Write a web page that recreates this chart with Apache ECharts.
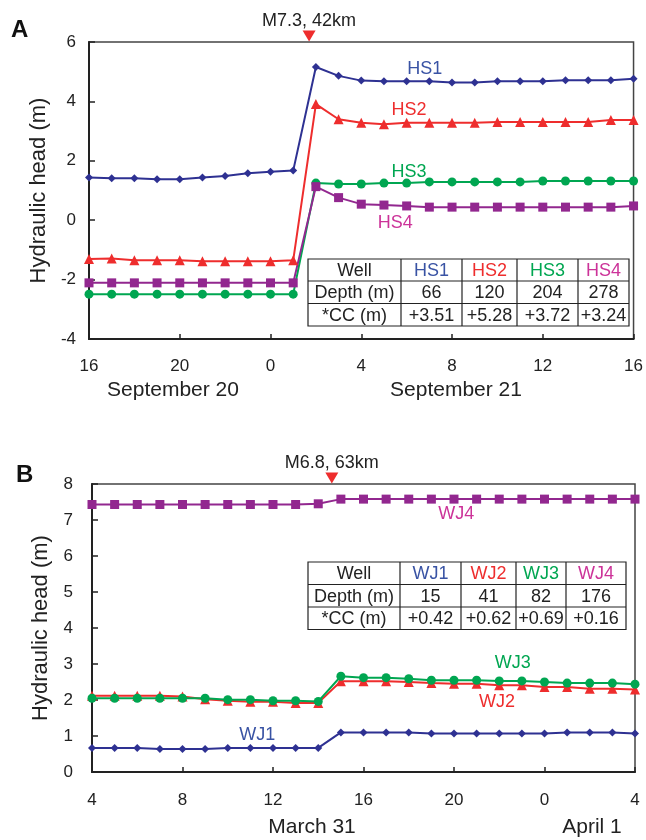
<!DOCTYPE html>
<html>
<head>
<meta charset="utf-8">
<script src="https://cdn.jsdelivr.net/npm/echarts@6/dist/echarts.min.js"></script>
<style>
  html, body { margin: 0; padding: 0; background: #fff; }
  #chart { width: 646px; height: 840px; }
</style>
</head>
<body>
<div id="chart"></div>
<script>
// hours since the first reading (16:00 Sep 20 in A, 04:00 Mar 31 in B)
var hours = [0, 1, 2, 3, 4, 5, 6, 7, 8, 9, 10, 11, 12, 13, 14, 15, 16, 17, 18, 19, 20, 21, 22, 23, 24];

var ticksA = ['16', '20', '0', '4', '8', '12', '16'];
var ticksB = ['4', '8', '12', '16', '20', '0', '4'];

var hs1 = [1.44, 1.41, 1.41, 1.38, 1.38, 1.44, 1.49, 1.58, 1.63, 1.67, 5.16, 4.86, 4.70, 4.68, 4.68, 4.68, 4.64, 4.64, 4.68, 4.68, 4.68, 4.71, 4.71, 4.71, 4.76];
var hs2 = [-1.31, -1.29, -1.35, -1.35, -1.35, -1.38, -1.38, -1.38, -1.38, -1.35, 3.91, 3.40, 3.28, 3.23, 3.28, 3.28, 3.28, 3.28, 3.31, 3.31, 3.31, 3.31, 3.31, 3.37, 3.37];
var hs3 = [-2.49, -2.49, -2.49, -2.49, -2.49, -2.49, -2.49, -2.49, -2.49, -2.49, 1.25, 1.22, 1.22, 1.25, 1.25, 1.29, 1.29, 1.29, 1.29, 1.29, 1.32, 1.32, 1.32, 1.32, 1.32];
var hs4 = [-2.11, -2.11, -2.11, -2.11, -2.11, -2.11, -2.11, -2.11, -2.11, -2.11, 1.13, 0.76, 0.54, 0.51, 0.48, 0.44, 0.44, 0.44, 0.44, 0.44, 0.44, 0.44, 0.44, 0.44, 0.48];

var wj1 = [0.67, 0.67, 0.67, 0.64, 0.64, 0.64, 0.67, 0.67, 0.67, 0.67, 0.67, 1.10, 1.10, 1.10, 1.10, 1.07, 1.07, 1.07, 1.07, 1.07, 1.07, 1.10, 1.10, 1.10, 1.07];
var wj2 = [2.12, 2.12, 2.12, 2.12, 2.10, 2.02, 1.98, 1.95, 1.95, 1.92, 1.92, 2.52, 2.52, 2.52, 2.50, 2.47, 2.45, 2.45, 2.41, 2.41, 2.36, 2.36, 2.31, 2.31, 2.29];
var wj3 = [2.05, 2.05, 2.05, 2.05, 2.05, 2.05, 2.01, 2.01, 1.98, 1.98, 1.96, 2.66, 2.62, 2.62, 2.59, 2.55, 2.55, 2.55, 2.53, 2.53, 2.50, 2.47, 2.47, 2.47, 2.44];
var wj4 = [7.43, 7.43, 7.43, 7.43, 7.43, 7.43, 7.43, 7.43, 7.43, 7.43, 7.45, 7.58, 7.58, 7.58, 7.58, 7.58, 7.58, 7.58, 7.58, 7.58, 7.58, 7.58, 7.58, 7.58, 7.58];

var wellsA = ['HS1', 'HS2', 'HS3', 'HS4'];
var depthA = ['66', '120', '204', '278'];
var ccA = ['+3.51', '+5.28', '+3.72', '+3.24'];
var wellsB = ['WJ1', 'WJ2', 'WJ3', 'WJ4'];
var depthB = ['15', '41', '82', '176'];
var ccB = ['+0.42', '+0.62', '+0.69', '+0.16'];

// earthquake times (hours on each x axis)
var quakeA = 9.7;
var quakeB = 10.6;

var FONT = 'Liberation Sans, Arial, sans-serif';
var lineCol = ['#2e3192', '#ee2d2d', '#00a651', '#92278f'];
var textCol = ['#3953a4', '#ee2d2d', '#00a651', '#cc3399'];
var symbols = ['diamond', 'triangle', 'circle', 'rect'];
var symSize = [8, 10, 9, 9];

// where the well names sit, in data units
var labelPosA = [[14.8, 5.08], [14.1, 3.70], [14.1, 1.62], [13.5, -0.09]];
var labelPosB = [[7.3, 1.04], [17.9, 1.93], [18.6, 3.04], [16.1, 7.17]];

function pairs(vals) {
  return vals.map(function (v, i) { return [hours[i], v]; });
}

var chart = echarts.init(document.getElementById('chart'));

function makeSeries(vals, k, gridIdx, names, lblPos) {
  return {
    type: 'line',
    name: names[k],
    xAxisIndex: gridIdx,
    yAxisIndex: gridIdx,
    data: pairs(vals),
    symbol: symbols[k],
    symbolSize: symSize[k],
    showAllSymbol: true,
    lineStyle: { color: lineCol[k], width: 2 },
    itemStyle: { color: lineCol[k] },
    markPoint: {
      symbolSize: 0,
      data: [{
        coord: lblPos[k],
        label: {
          show: true, position: 'inside', formatter: names[k],
          color: textCol[k], fontSize: 18, fontFamily: FONT
        }
      }]
    }
  };
}

function quakeSeries(gridIdx, x, top, text) {
  return {
    type: 'line', xAxisIndex: gridIdx, yAxisIndex: gridIdx, data: [],
    markPoint: {
      symbol: 'triangle', symbolRotate: 180, symbolSize: [13, 11], symbolOffset: [0, -6],
      itemStyle: { color: '#ee2d2d' },
      data: [{
        coord: [x, top],
        label: {
          show: true, position: 'top', distance: 0, formatter: text,
          color: '#222', fontSize: 18, fontFamily: FONT
        }
      }]
    }
  };
}

function tableGraphic(colX, rowY, wells, depth, cc) {
  var els = [];
  var rows = [['Well'].concat(wells), ['Depth (m)'].concat(depth), ['*CC (m)'].concat(cc)];
  els.push({ type: 'rect', shape: { x: colX[0], y: rowY[0], width: colX[colX.length - 1] - colX[0], height: rowY[rowY.length - 1] - rowY[0] },
    style: { fill: '#fff', stroke: '#222', lineWidth: 1.2 } });
  for (var c = 1; c < colX.length - 1; c++) {
    els.push({ type: 'line', shape: { x1: colX[c], y1: rowY[0], x2: colX[c], y2: rowY[rowY.length - 1] }, style: { stroke: '#222', lineWidth: 1.2 } });
  }
  for (var r = 1; r < rowY.length - 1; r++) {
    els.push({ type: 'line', shape: { x1: colX[0], y1: rowY[r], x2: colX[colX.length - 1], y2: rowY[r] }, style: { stroke: '#222', lineWidth: 1.2 } });
  }
  rows.forEach(function (row, r) {
    row.forEach(function (t, c) {
      els.push({
        type: 'text',
        x: (colX[c] + colX[c + 1]) / 2, y: (rowY[r] + rowY[r + 1]) / 2 + 1,
        style: { text: t, fontSize: 18, fontFamily: FONT, align: 'center', verticalAlign: 'middle',
          fill: (r === 0 && c > 0) ? textCol[c - 1] : '#222' }
      });
    });
  });
  return els;
}

function xAxis(gridIdx, labels, margin) {
  return {
    type: 'value', gridIndex: gridIdx, min: 0, max: 24, interval: 4,
    axisLine: { onZero: false, lineStyle: { color: '#222', width: 2 } },
    axisTick: { inside: true, length: 5, lineStyle: { color: '#222', width: 1.5 } },
    splitLine: { show: false },
    axisLabel: {
      margin: margin, color: '#222', fontSize: 17, fontFamily: FONT,
      formatter: function (v) { return labels[Math.round(v / 4)]; }
    }
  };
}

function yAxis(gridIdx, min, max, interval, margin, gap) {
  return {
    type: 'value', gridIndex: gridIdx, min: min, max: max, interval: interval,
    name: 'Hydraulic head (m)', nameLocation: 'middle', nameGap: gap,
    nameTextStyle: { color: '#222', fontSize: 22, fontFamily: FONT },
    axisLine: { show: true, onZero: false, lineStyle: { color: '#222', width: 2 } },
    axisTick: { inside: true, length: 6, lineStyle: { color: '#222', width: 1.5 } },
    splitLine: { show: false },
    axisLabel: { margin: margin, color: '#222', fontSize: 17, fontFamily: FONT }
  };
}

var series = [];
[hs1, hs2, hs3, hs4].forEach(function (v, k) { series.push(makeSeries(v, k, 0, wellsA, labelPosA)); });
[wj1, wj2, wj3, wj4].forEach(function (v, k) { series.push(makeSeries(v, k, 1, wellsB, labelPosB)); });
series.push(quakeSeries(0, quakeA, 6, 'M7.3, 42km'));
series.push(quakeSeries(1, quakeB, 8, 'M6.8, 63km'));

var graphics = [
  { type: 'text', x: 11, y: 18, style: { text: 'A', fontSize: 24, fontWeight: 'bold', fontFamily: FONT, fill: '#111' } },
  { type: 'text', x: 16, y: 463, style: { text: 'B', fontSize: 24, fontWeight: 'bold', fontFamily: FONT, fill: '#111' } },
  { type: 'text', x: 173, y: 390, style: { text: 'September 20', fontSize: 21, fontFamily: FONT, fill: '#222', align: 'center', verticalAlign: 'middle' } },
  { type: 'text', x: 456, y: 390, style: { text: 'September 21', fontSize: 21, fontFamily: FONT, fill: '#222', align: 'center', verticalAlign: 'middle' } },
  { type: 'text', x: 312, y: 827, style: { text: 'March 31', fontSize: 21, fontFamily: FONT, fill: '#222', align: 'center', verticalAlign: 'middle' } },
  { type: 'text', x: 592, y: 827, style: { text: 'April 1', fontSize: 21, fontFamily: FONT, fill: '#222', align: 'center', verticalAlign: 'middle' } }
];
graphics = graphics.concat(tableGraphic([308, 401, 462, 517, 578, 629], [259, 281, 303.5, 326], wellsA, depthA, ccA));
graphics = graphics.concat(tableGraphic([308, 400, 461, 516, 566, 626], [562, 584.5, 607, 629.5], wellsB, depthB, ccB));

chart.setOption({
  animation: false,
  backgroundColor: '#fff',
  grid: [
    { left: 89, right: 11, top: 42, height: 297, show: true, borderColor: '#444', borderWidth: 1.5, backgroundColor: 'transparent' },
    { left: 92, right: 11, top: 484, height: 288, show: true, borderColor: '#444', borderWidth: 1.5, backgroundColor: 'transparent' }
  ],
  xAxis: [xAxis(0, ticksA, 19), xAxis(1, ticksB, 20)],
  yAxis: [yAxis(0, -4, 6, 2, 13, 37), yAxis(1, 0, 8, 1, 19, 40)],
  series: series,
  graphic: graphics
});
</script>
</body>
</html>
